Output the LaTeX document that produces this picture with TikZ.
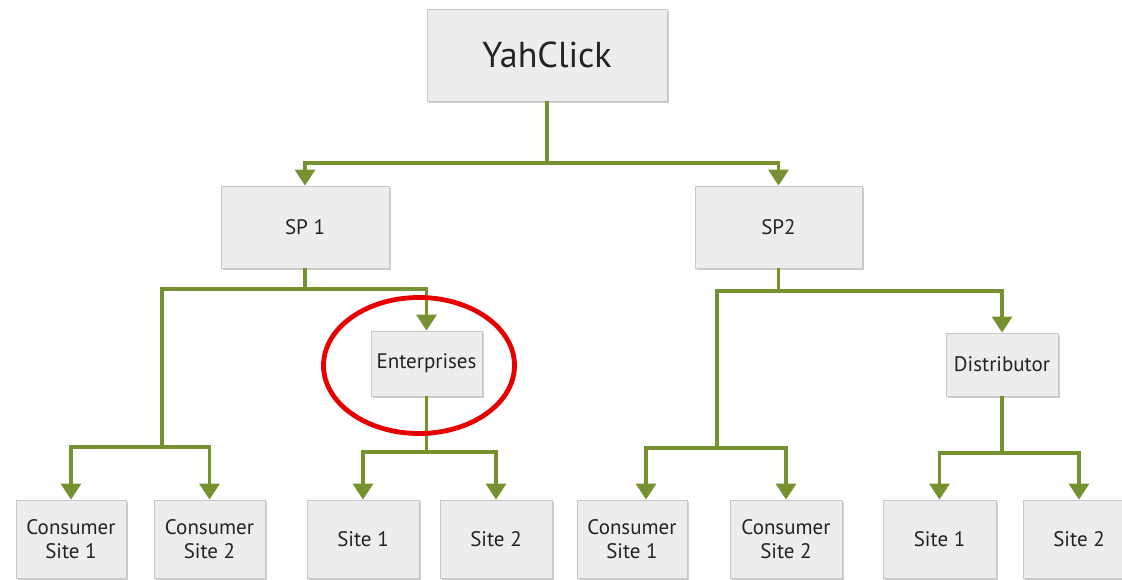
\documentclass[tikz,border=0pt]{standalone}
\usepackage{fontspec}
\setmainfont{PT Sans}
\usetikzlibrary{arrows.meta,shapes.geometric,shadows}
\definecolor{linegreen}{RGB}{118,146,48}
\definecolor{boxfill}{RGB}{237,237,237}
\definecolor{boxdraw}{RGB}{200,200,200}
\definecolor{txt}{RGB}{35,35,35}
\definecolor{ringred}{RGB}{232,0,0}
\begin{document}
\begin{tikzpicture}[x=1pt,y=-1pt,
  box/.style={draw=boxdraw, line width=0.8pt, fill=boxfill, rectangle, inner sep=2pt,
    align=center, text=txt, font=\fontsize{21}{24}\selectfont,
    drop shadow={shadow xshift=1.8pt, shadow yshift=-1.8pt, fill=black!35, opacity=0.55}},
  conn/.style={draw=linegreen, line width=3.4pt},
  arr/.style={conn, -{Triangle[width=20pt,length=16pt]}}]
\useasboundingbox (0,0) rectangle (1122,580);
% boxes
\node[box, minimum width=240, minimum height=92, font=\fontsize{36}{40}\selectfont] (yah) at (547,55) {YahClick};
\node[box, minimum width=168, minimum height=82] (sp1) at (305,227) {SP 1};
\node[box, minimum width=167, minimum height=82] (sp2) at (778.5,227) {SP2};
\node[box, minimum width=111, minimum height=65] (ent) at (426.5,363.5) {Enterprises};
\node[box, minimum width=112, minimum height=63] (dis) at (1002,364.5) {Distributor};
\node[box, minimum width=110, minimum height=78] (cs1a) at (71,539) {Consumer\\Site 1};
\node[box, minimum width=111, minimum height=78] (cs2a) at (209.5,539) {Consumer\\Site 2};
\node[box, minimum width=112, minimum height=78] (s1a) at (363,539) {Site 1};
\node[box, minimum width=112, minimum height=78] (s2a) at (496,539) {Site 2};
\node[box, minimum width=110, minimum height=78] (cs1b) at (632,539) {Consumer\\Site 1};
\node[box, minimum width=112, minimum height=78] (cs2b) at (786,539) {Consumer\\Site 2};
\node[box, minimum width=113, minimum height=78] (s1b) at (939.5,539) {Site 1};
\node[box, minimum width=112, minimum height=78] (s2b) at (1079,539) {Site 2};
% junctions
\coordinate (topj) at (547,163);
\coordinate (sp1j) at (305,289);
\coordinate (lj) at (162,447);
\coordinate (entj) at (426.5,452);
\coordinate (sp2j) at (778.5,291);
\coordinate (rj) at (717,448);
\coordinate (disj) at (1002,453);
% connectors
\draw[conn] (yah.south) -- (topj);
\draw[arr] (topj) -| (sp1.north);
\draw[arr] (topj) -| (sp2.north);
\draw[conn] (sp1.south) -- (sp1j);
\draw[arr] (sp1j) -| (ent.north);
\draw[conn] (sp1j) -| (lj);
\draw[arr] (lj) -| (cs1a.north);
\draw[arr] (lj) -| (cs2a.north);
\draw[conn] (ent.south) -- (entj);
\draw[arr] (entj) -| (s1a.north);
\draw[arr] (entj) -| (s2a.north);
\draw[conn] (sp2.south) -- (sp2j);
\draw[arr] (sp2j) -| (dis.north);
\draw[conn] (sp2j) -| (rj);
\draw[arr] (rj) -| ([xshift=14pt]cs1b.north);
\draw[arr] (rj) -| (cs2b.north);
\draw[conn] (dis.south) -- (disj);
\draw[arr] (disj) -| (s1b.north);
\draw[arr] (disj) -| (s2b.north);
% highlight ring
\node[draw=ringred, line width=4.8pt, ellipse, inner sep=0pt, minimum width=191pt, minimum height=136pt] (ring) at (419,365.5) {};
\end{tikzpicture}
\end{document}
